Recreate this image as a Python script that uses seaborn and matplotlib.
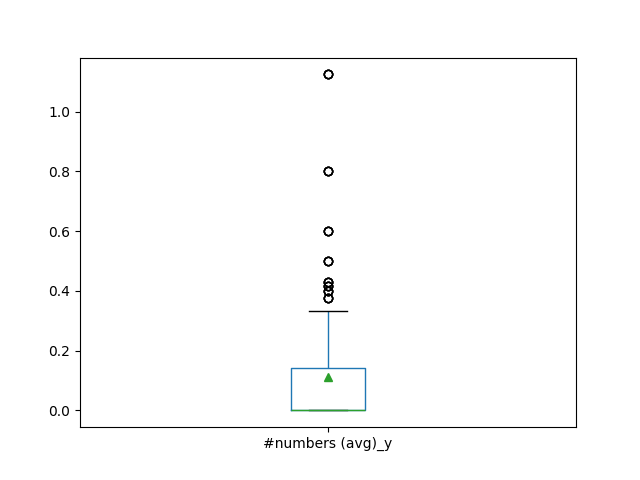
import numpy as np
import pandas as pd
import matplotlib
matplotlib.use("Agg")
import matplotlib.pyplot as plt
import seaborn as sns


column_name = "#numbers (avg)_y"

# distinct values and how often each one occurs
values = [0.0, 1/9, 1/8, 1/7, 0.2, 0.25, 1/3,
          0.375, 0.4, 5/12, 3/7, 0.5, 0.6, 0.8, 1.125]
counts = [170, 30, 15, 25, 10, 10, 5,
          4, 4, 4, 4, 4, 4, 4, 4]

df = pd.DataFrame({column_name: np.repeat(values, counts)})

fig, ax = plt.subplots(figsize=(6.4, 4.8), dpi=100)
sns.boxplot(data=df, ax=ax, width=0.15, color="C0", fill=False,
            linewidth=1, showmeans=True,
            boxprops=dict(color="C0"),
            whiskerprops=dict(color="C0"),
            capprops=dict(color="black"),
            medianprops=dict(color="C2"),
            meanprops=dict(marker="^", markerfacecolor="C2",
                           markeredgecolor="C2", markersize=6),
            flierprops=dict(marker="o", markerfacecolor="none",
                            markeredgecolor="black", markersize=6,
                            markeredgewidth=1))
ax.set_xlim(-0.5, 0.5)
ax.set_xlabel("")
ax.set_ylabel("")
plt.savefig("out.png")
plt.close()
